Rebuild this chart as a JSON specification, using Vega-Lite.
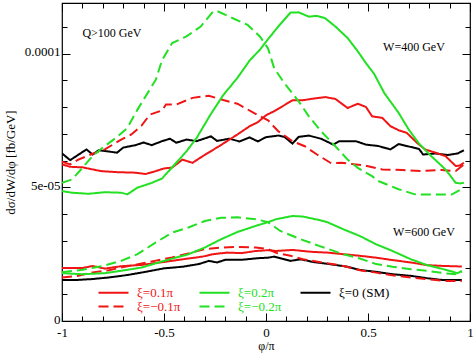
{
"$schema":"https://vega.github.io/schema/vega-lite/v6.json",
"width":408,"height":318,
"autosize":{"type":"none"},
"padding":{"left":62,"top":3,"right":4,"bottom":33},
"config":{"view":{"stroke":"black","strokeWidth":1.2},"font":"Liberation Serif",
 "axis":{"labelFont":"Liberation Serif","titleFont":"Liberation Serif","labelFontSize":13,"titleFontSize":13,"titleFontWeight":"normal","domain":false,"grid":false,"tickColor":"black","labelColor":"black","titleColor":"black","tickWidth":1}},
"datasets":{"curves":[
{"s":"ξ=0 (SM)","W":400,"x":-1.0,"y":6.27e-5},{"s":"ξ=0 (SM)","W":400,"x":-0.96,"y":6.02e-5},{"s":"ξ=0 (SM)","W":400,"x":-0.88,"y":6.42e-5},{"s":"ξ=0 (SM)","W":400,"x":-0.85,"y":6.23e-5},{"s":"ξ=0 (SM)","W":400,"x":-0.82,"y":6.39e-5},{"s":"ξ=0 (SM)","W":400,"x":-0.73,"y":6.30e-5},{"s":"ξ=0 (SM)","W":400,"x":-0.70,"y":6.49e-5},{"s":"ξ=0 (SM)","W":400,"x":-0.64,"y":6.58e-5},{"s":"ξ=0 (SM)","W":400,"x":-0.60,"y":6.68e-5},{"s":"ξ=0 (SM)","W":400,"x":-0.56,"y":6.58e-5},{"s":"ξ=0 (SM)","W":400,"x":-0.51,"y":6.73e-5},{"s":"ξ=0 (SM)","W":400,"x":-0.47,"y":6.82e-5},{"s":"ξ=0 (SM)","W":400,"x":-0.44,"y":6.67e-5},{"s":"ξ=0 (SM)","W":400,"x":-0.39,"y":6.79e-5},{"s":"ξ=0 (SM)","W":400,"x":-0.34,"y":6.73e-5},{"s":"ξ=0 (SM)","W":400,"x":-0.27,"y":6.91e-5},{"s":"ξ=0 (SM)","W":400,"x":-0.24,"y":6.74e-5},{"s":"ξ=0 (SM)","W":400,"x":-0.18,"y":6.82e-5},{"s":"ξ=0 (SM)","W":400,"x":-0.13,"y":6.72e-5},{"s":"ξ=0 (SM)","W":400,"x":-0.08,"y":6.87e-5},{"s":"ξ=0 (SM)","W":400,"x":-0.04,"y":6.72e-5},{"s":"ξ=0 (SM)","W":400,"x":0.0,"y":6.88e-5},{"s":"ξ=0 (SM)","W":400,"x":0.06,"y":6.94e-5},{"s":"ξ=0 (SM)","W":400,"x":0.09,"y":6.89e-5},{"s":"ξ=0 (SM)","W":400,"x":0.13,"y":6.64e-5},{"s":"ξ=0 (SM)","W":400,"x":0.16,"y":6.89e-5},{"s":"ξ=0 (SM)","W":400,"x":0.21,"y":6.94e-5},{"s":"ξ=0 (SM)","W":400,"x":0.27,"y":6.82e-5},{"s":"ξ=0 (SM)","W":400,"x":0.33,"y":6.60e-5},{"s":"ξ=0 (SM)","W":400,"x":0.36,"y":6.73e-5},{"s":"ξ=0 (SM)","W":400,"x":0.44,"y":6.73e-5},{"s":"ξ=0 (SM)","W":400,"x":0.49,"y":6.60e-5},{"s":"ξ=0 (SM)","W":400,"x":0.55,"y":6.55e-5},{"s":"ξ=0 (SM)","W":400,"x":0.61,"y":6.42e-5},{"s":"ξ=0 (SM)","W":400,"x":0.65,"y":6.62e-5},{"s":"ξ=0 (SM)","W":400,"x":0.70,"y":6.53e-5},{"s":"ξ=0 (SM)","W":400,"x":0.75,"y":6.44e-5},{"s":"ξ=0 (SM)","W":400,"x":0.77,"y":6.23e-5},{"s":"ξ=0 (SM)","W":400,"x":0.83,"y":6.27e-5},{"s":"ξ=0 (SM)","W":400,"x":0.89,"y":6.21e-5},{"s":"ξ=0 (SM)","W":400,"x":0.94,"y":6.27e-5},{"s":"ξ=0 (SM)","W":400,"x":0.97,"y":6.39e-5},
{"s":"ξ=0.1π","W":400,"x":-1.0,"y":5.86e-5},{"s":"ξ=0.1π","W":400,"x":-0.96,"y":5.77e-5},{"s":"ξ=0.1π","W":400,"x":-0.90,"y":5.75e-5},{"s":"ξ=0.1π","W":400,"x":-0.81,"y":5.61e-5},{"s":"ξ=0.1π","W":400,"x":-0.73,"y":5.57e-5},{"s":"ξ=0.1π","W":400,"x":-0.64,"y":5.55e-5},{"s":"ξ=0.1π","W":400,"x":-0.59,"y":5.50e-5},{"s":"ξ=0.1π","W":400,"x":-0.54,"y":5.61e-5},{"s":"ξ=0.1π","W":400,"x":-0.50,"y":5.71e-5},{"s":"ξ=0.1π","W":400,"x":-0.46,"y":5.74e-5},{"s":"ξ=0.1π","W":400,"x":-0.41,"y":6.04e-5},{"s":"ξ=0.1π","W":400,"x":-0.36,"y":5.92e-5},{"s":"ξ=0.1π","W":400,"x":-0.31,"y":6.17e-5},{"s":"ξ=0.1π","W":400,"x":-0.23,"y":6.54e-5},{"s":"ξ=0.1π","W":400,"x":-0.14,"y":6.98e-5},{"s":"ξ=0.1π","W":400,"x":-0.08,"y":7.29e-5},{"s":"ξ=0.1π","W":400,"x":-0.04,"y":7.44e-5},{"s":"ξ=0.1π","W":400,"x":0.0,"y":7.70e-5},{"s":"ξ=0.1π","W":400,"x":0.04,"y":7.85e-5},{"s":"ξ=0.1π","W":400,"x":0.13,"y":8.26e-5},{"s":"ξ=0.1π","W":400,"x":0.18,"y":8.26e-5},{"s":"ξ=0.1π","W":400,"x":0.23,"y":8.32e-5},{"s":"ξ=0.1π","W":400,"x":0.29,"y":8.38e-5},{"s":"ξ=0.1π","W":400,"x":0.34,"y":8.31e-5},{"s":"ξ=0.1π","W":400,"x":0.40,"y":7.97e-5},{"s":"ξ=0.1π","W":400,"x":0.45,"y":8.13e-5},{"s":"ξ=0.1π","W":400,"x":0.49,"y":8.01e-5},{"s":"ξ=0.1π","W":400,"x":0.52,"y":7.66e-5},{"s":"ξ=0.1π","W":400,"x":0.57,"y":7.60e-5},{"s":"ξ=0.1π","W":400,"x":0.61,"y":7.29e-5},{"s":"ξ=0.1π","W":400,"x":0.65,"y":7.14e-5},{"s":"ξ=0.1π","W":400,"x":0.69,"y":7.04e-5},{"s":"ξ=0.1π","W":400,"x":0.74,"y":6.67e-5},{"s":"ξ=0.1π","W":400,"x":0.78,"y":6.42e-5},{"s":"ξ=0.1π","W":400,"x":0.83,"y":6.30e-5},{"s":"ξ=0.1π","W":400,"x":0.88,"y":6.17e-5},{"s":"ξ=0.1π","W":400,"x":0.93,"y":5.80e-5},{"s":"ξ=0.1π","W":400,"x":0.95,"y":5.82e-5},{"s":"ξ=0.1π","W":400,"x":0.97,"y":5.92e-5},
{"s":"ξ=−0.1π","W":400,"x":-1.0,"y":5.96e-5},{"s":"ξ=−0.1π","W":400,"x":-0.96,"y":5.86e-5},{"s":"ξ=−0.1π","W":400,"x":-0.92,"y":6.04e-5},{"s":"ξ=−0.1π","W":400,"x":-0.85,"y":6.26e-5},{"s":"ξ=−0.1π","W":400,"x":-0.79,"y":6.42e-5},{"s":"ξ=−0.1π","W":400,"x":-0.71,"y":6.79e-5},{"s":"ξ=−0.1π","W":400,"x":-0.66,"y":6.98e-5},{"s":"ξ=−0.1π","W":400,"x":-0.61,"y":7.31e-5},{"s":"ξ=−0.1π","W":400,"x":-0.57,"y":7.72e-5},{"s":"ξ=−0.1π","W":400,"x":-0.51,"y":7.88e-5},{"s":"ξ=−0.1π","W":400,"x":-0.49,"y":8.10e-5},{"s":"ξ=−0.1π","W":400,"x":-0.44,"y":8.10e-5},{"s":"ξ=−0.1π","W":400,"x":-0.36,"y":8.35e-5},{"s":"ξ=−0.1π","W":400,"x":-0.28,"y":8.43e-5},{"s":"ξ=−0.1π","W":400,"x":-0.21,"y":8.27e-5},{"s":"ξ=−0.1π","W":400,"x":-0.14,"y":8.13e-5},{"s":"ξ=−0.1π","W":400,"x":-0.06,"y":7.79e-5},{"s":"ξ=−0.1π","W":400,"x":-0.02,"y":7.63e-5},{"s":"ξ=−0.1π","W":400,"x":0.01,"y":7.51e-5},{"s":"ξ=−0.1π","W":400,"x":0.06,"y":7.10e-5},{"s":"ξ=−0.1π","W":400,"x":0.13,"y":6.73e-5},{"s":"ξ=−0.1π","W":400,"x":0.19,"y":6.54e-5},{"s":"ξ=−0.1π","W":400,"x":0.25,"y":6.23e-5},{"s":"ξ=−0.1π","W":400,"x":0.32,"y":5.90e-5},{"s":"ξ=−0.1π","W":400,"x":0.37,"y":5.92e-5},{"s":"ξ=−0.1π","W":400,"x":0.44,"y":5.86e-5},{"s":"ξ=−0.1π","W":400,"x":0.49,"y":5.81e-5},{"s":"ξ=−0.1π","W":400,"x":0.57,"y":5.67e-5},{"s":"ξ=−0.1π","W":400,"x":0.67,"y":5.65e-5},{"s":"ξ=−0.1π","W":400,"x":0.76,"y":5.61e-5},{"s":"ξ=−0.1π","W":400,"x":0.86,"y":5.65e-5},{"s":"ξ=−0.1π","W":400,"x":0.93,"y":5.61e-5},{"s":"ξ=−0.1π","W":400,"x":0.97,"y":5.86e-5},
{"s":"ξ=0.2π","W":400,"x":-1.0,"y":4.86e-5},{"s":"ξ=0.2π","W":400,"x":-0.95,"y":4.80e-5},{"s":"ξ=0.2π","W":400,"x":-0.87,"y":4.76e-5},{"s":"ξ=0.2π","W":400,"x":-0.79,"y":4.82e-5},{"s":"ξ=0.2π","W":400,"x":-0.71,"y":4.80e-5},{"s":"ξ=0.2π","W":400,"x":-0.68,"y":4.74e-5},{"s":"ξ=0.2π","W":400,"x":-0.63,"y":4.99e-5},{"s":"ξ=0.2π","W":400,"x":-0.56,"y":5.17e-5},{"s":"ξ=0.2π","W":400,"x":-0.51,"y":5.33e-5},{"s":"ξ=0.2π","W":400,"x":-0.46,"y":5.75e-5},{"s":"ξ=0.2π","W":400,"x":-0.39,"y":6.35e-5},{"s":"ξ=0.2π","W":400,"x":-0.34,"y":6.85e-5},{"s":"ξ=0.2π","W":400,"x":-0.27,"y":7.75e-5},{"s":"ξ=0.2π","W":400,"x":-0.21,"y":8.45e-5},{"s":"ξ=0.2π","W":400,"x":-0.14,"y":9.10e-5},{"s":"ξ=0.2π","W":400,"x":-0.08,"y":9.75e-5},{"s":"ξ=0.2π","W":400,"x":-0.03,"y":10.15e-5},{"s":"ξ=0.2π","W":400,"x":0.0,"y":10.45e-5},{"s":"ξ=0.2π","W":400,"x":0.06,"y":11.02e-5},{"s":"ξ=0.2π","W":400,"x":0.12,"y":11.54e-5},{"s":"ξ=0.2π","W":400,"x":0.16,"y":11.55e-5},{"s":"ξ=0.2π","W":400,"x":0.21,"y":11.39e-5},{"s":"ξ=0.2π","W":400,"x":0.25,"y":11.42e-5},{"s":"ξ=0.2π","W":400,"x":0.29,"y":11.33e-5},{"s":"ξ=0.2π","W":400,"x":0.34,"y":11.02e-5},{"s":"ξ=0.2π","W":400,"x":0.40,"y":10.59e-5},{"s":"ξ=0.2π","W":400,"x":0.45,"y":10.09e-5},{"s":"ξ=0.2π","W":400,"x":0.49,"y":9.65e-5},{"s":"ξ=0.2π","W":400,"x":0.53,"y":9.25e-5},{"s":"ξ=0.2π","W":400,"x":0.58,"y":8.53e-5},{"s":"ξ=0.2π","W":400,"x":0.65,"y":7.79e-5},{"s":"ξ=0.2π","W":400,"x":0.70,"y":7.16e-5},{"s":"ξ=0.2π","W":400,"x":0.75,"y":6.64e-5},{"s":"ξ=0.2π","W":400,"x":0.81,"y":6.17e-5},{"s":"ξ=0.2π","W":400,"x":0.88,"y":5.67e-5},{"s":"ξ=0.2π","W":400,"x":0.93,"y":5.17e-5},{"s":"ξ=0.2π","W":400,"x":0.95,"y":5.15e-5},{"s":"ξ=0.2π","W":400,"x":0.97,"y":5.17e-5},
{"s":"ξ=−0.2π","W":400,"x":-1.0,"y":5.17e-5},{"s":"ξ=−0.2π","W":400,"x":-0.95,"y":5.30e-5},{"s":"ξ=−0.2π","W":400,"x":-0.90,"y":5.73e-5},{"s":"ξ=−0.2π","W":400,"x":-0.85,"y":6.17e-5},{"s":"ξ=−0.2π","W":400,"x":-0.80,"y":6.49e-5},{"s":"ξ=−0.2π","W":400,"x":-0.74,"y":6.83e-5},{"s":"ξ=−0.2π","W":400,"x":-0.68,"y":7.22e-5},{"s":"ξ=−0.2π","W":400,"x":-0.63,"y":7.91e-5},{"s":"ξ=−0.2π","W":400,"x":-0.59,"y":8.41e-5},{"s":"ξ=−0.2π","W":400,"x":-0.54,"y":9.03e-5},{"s":"ξ=−0.2π","W":400,"x":-0.51,"y":9.75e-5},{"s":"ξ=−0.2π","W":400,"x":-0.46,"y":10.40e-5},{"s":"ξ=−0.2π","W":400,"x":-0.39,"y":10.65e-5},{"s":"ξ=−0.2π","W":400,"x":-0.32,"y":11.02e-5},{"s":"ξ=−0.2π","W":400,"x":-0.26,"y":11.58e-5},{"s":"ξ=−0.2π","W":400,"x":-0.24,"y":11.60e-5},{"s":"ξ=−0.2π","W":400,"x":-0.18,"y":11.39e-5},{"s":"ξ=−0.2π","W":400,"x":-0.09,"y":11.08e-5},{"s":"ξ=−0.2π","W":400,"x":-0.03,"y":10.65e-5},{"s":"ξ=−0.2π","W":400,"x":0.01,"y":10.20e-5},{"s":"ξ=−0.2π","W":400,"x":0.04,"y":9.46e-5},{"s":"ξ=−0.2π","W":400,"x":0.09,"y":8.90e-5},{"s":"ξ=−0.2π","W":400,"x":0.16,"y":8.22e-5},{"s":"ξ=−0.2π","W":400,"x":0.21,"y":7.66e-5},{"s":"ξ=−0.2π","W":400,"x":0.27,"y":7.10e-5},{"s":"ξ=−0.2π","W":400,"x":0.34,"y":6.54e-5},{"s":"ξ=−0.2π","W":400,"x":0.40,"y":6.04e-5},{"s":"ξ=−0.2π","W":400,"x":0.45,"y":5.73e-5},{"s":"ξ=−0.2π","W":400,"x":0.52,"y":5.42e-5},{"s":"ξ=−0.2π","W":400,"x":0.55,"y":5.24e-5},{"s":"ξ=−0.2π","W":400,"x":0.65,"y":4.93e-5},{"s":"ξ=−0.2π","W":400,"x":0.73,"y":4.74e-5},{"s":"ξ=−0.2π","W":400,"x":0.81,"y":4.73e-5},{"s":"ξ=−0.2π","W":400,"x":0.91,"y":4.73e-5},{"s":"ξ=−0.2π","W":400,"x":0.97,"y":4.99e-5},
{"s":"ξ=0 (SM)","W":600,"x":-1.0,"y":1.53e-5},{"s":"ξ=0 (SM)","W":600,"x":-0.94,"y":1.53e-5},{"s":"ξ=0 (SM)","W":600,"x":-0.85,"y":1.57e-5},{"s":"ξ=0 (SM)","W":600,"x":-0.77,"y":1.63e-5},{"s":"ξ=0 (SM)","W":600,"x":-0.68,"y":1.72e-5},{"s":"ξ=0 (SM)","W":600,"x":-0.59,"y":1.84e-5},{"s":"ξ=0 (SM)","W":600,"x":-0.50,"y":1.97e-5},{"s":"ξ=0 (SM)","W":600,"x":-0.41,"y":2.03e-5},{"s":"ξ=0 (SM)","W":600,"x":-0.33,"y":2.13e-5},{"s":"ξ=0 (SM)","W":600,"x":-0.28,"y":2.25e-5},{"s":"ξ=0 (SM)","W":600,"x":-0.24,"y":2.19e-5},{"s":"ξ=0 (SM)","W":600,"x":-0.20,"y":2.29e-5},{"s":"ξ=0 (SM)","W":600,"x":-0.12,"y":2.29e-5},{"s":"ξ=0 (SM)","W":600,"x":-0.04,"y":2.35e-5},{"s":"ξ=0 (SM)","W":600,"x":0.01,"y":2.37e-5},{"s":"ξ=0 (SM)","W":600,"x":0.04,"y":2.41e-5},{"s":"ξ=0 (SM)","W":600,"x":0.12,"y":2.25e-5},{"s":"ξ=0 (SM)","W":600,"x":0.17,"y":2.31e-5},{"s":"ξ=0 (SM)","W":600,"x":0.23,"y":2.21e-5},{"s":"ξ=0 (SM)","W":600,"x":0.31,"y":2.13e-5},{"s":"ξ=0 (SM)","W":600,"x":0.40,"y":2.03e-5},{"s":"ξ=0 (SM)","W":600,"x":0.46,"y":1.91e-5},{"s":"ξ=0 (SM)","W":600,"x":0.54,"y":1.84e-5},{"s":"ξ=0 (SM)","W":600,"x":0.62,"y":1.75e-5},{"s":"ξ=0 (SM)","W":600,"x":0.71,"y":1.69e-5},{"s":"ξ=0 (SM)","W":600,"x":0.79,"y":1.60e-5},{"s":"ξ=0 (SM)","W":600,"x":0.87,"y":1.53e-5},{"s":"ξ=0 (SM)","W":600,"x":0.96,"y":1.53e-5},
{"s":"ξ=0.1π","W":600,"x":-1.0,"y":1.98e-5},{"s":"ξ=0.1π","W":600,"x":-0.90,"y":1.98e-5},{"s":"ξ=0.1π","W":600,"x":-0.85,"y":2.06e-5},{"s":"ξ=0.1π","W":600,"x":-0.79,"y":1.96e-5},{"s":"ξ=0.1π","W":600,"x":-0.71,"y":2.05e-5},{"s":"ξ=0.1π","W":600,"x":-0.61,"y":2.10e-5},{"s":"ξ=0.1π","W":600,"x":-0.50,"y":2.21e-5},{"s":"ξ=0.1π","W":600,"x":-0.38,"y":2.34e-5},{"s":"ξ=0.1π","W":600,"x":-0.31,"y":2.41e-5},{"s":"ξ=0.1π","W":600,"x":-0.26,"y":2.50e-5},{"s":"ξ=0.1π","W":600,"x":-0.19,"y":2.56e-5},{"s":"ξ=0.1π","W":600,"x":-0.12,"y":2.54e-5},{"s":"ξ=0.1π","W":600,"x":-0.05,"y":2.62e-5},{"s":"ξ=0.1π","W":600,"x":0.01,"y":2.65e-5},{"s":"ξ=0.1π","W":600,"x":0.05,"y":2.62e-5},{"s":"ξ=0.1π","W":600,"x":0.13,"y":2.66e-5},{"s":"ξ=0.1π","W":600,"x":0.22,"y":2.59e-5},{"s":"ξ=0.1π","W":600,"x":0.30,"y":2.56e-5},{"s":"ξ=0.1π","W":600,"x":0.38,"y":2.50e-5},{"s":"ξ=0.1π","W":600,"x":0.46,"y":2.44e-5},{"s":"ξ=0.1π","W":600,"x":0.54,"y":2.37e-5},{"s":"ξ=0.1π","W":600,"x":0.62,"y":2.28e-5},{"s":"ξ=0.1π","W":600,"x":0.71,"y":2.19e-5},{"s":"ξ=0.1π","W":600,"x":0.79,"y":2.09e-5},{"s":"ξ=0.1π","W":600,"x":0.87,"y":2.06e-5},{"s":"ξ=0.1π","W":600,"x":0.96,"y":2.04e-5},
{"s":"ξ=−0.1π","W":600,"x":-1.0,"y":1.63e-5},{"s":"ξ=−0.1π","W":600,"x":-0.92,"y":1.69e-5},{"s":"ξ=−0.1π","W":600,"x":-0.85,"y":1.82e-5},{"s":"ξ=−0.1π","W":600,"x":-0.77,"y":1.90e-5},{"s":"ξ=−0.1π","W":600,"x":-0.71,"y":2.00e-5},{"s":"ξ=−0.1π","W":600,"x":-0.61,"y":2.15e-5},{"s":"ξ=−0.1π","W":600,"x":-0.54,"y":2.26e-5},{"s":"ξ=−0.1π","W":600,"x":-0.46,"y":2.38e-5},{"s":"ξ=−0.1π","W":600,"x":-0.38,"y":2.53e-5},{"s":"ξ=−0.1π","W":600,"x":-0.30,"y":2.69e-5},{"s":"ξ=−0.1π","W":600,"x":-0.22,"y":2.75e-5},{"s":"ξ=−0.1π","W":600,"x":-0.14,"y":2.77e-5},{"s":"ξ=−0.1π","W":600,"x":-0.05,"y":2.75e-5},{"s":"ξ=−0.1π","W":600,"x":0.01,"y":2.69e-5},{"s":"ξ=−0.1π","W":600,"x":0.05,"y":2.55e-5},{"s":"ξ=−0.1π","W":600,"x":0.12,"y":2.44e-5},{"s":"ξ=−0.1π","W":600,"x":0.18,"y":2.31e-5},{"s":"ξ=−0.1π","W":600,"x":0.26,"y":2.21e-5},{"s":"ξ=−0.1π","W":600,"x":0.38,"y":2.06e-5},{"s":"ξ=−0.1π","W":600,"x":0.46,"y":1.90e-5},{"s":"ξ=−0.1π","W":600,"x":0.54,"y":1.81e-5},{"s":"ξ=−0.1π","W":600,"x":0.62,"y":1.71e-5},{"s":"ξ=−0.1π","W":600,"x":0.71,"y":1.63e-5},{"s":"ξ=−0.1π","W":600,"x":0.79,"y":1.57e-5},{"s":"ξ=−0.1π","W":600,"x":0.87,"y":1.50e-5},{"s":"ξ=−0.1π","W":600,"x":0.96,"y":1.50e-5},
{"s":"ξ=0.2π","W":600,"x":-1.0,"y":1.79e-5},{"s":"ξ=0.2π","W":600,"x":-0.90,"y":1.75e-5},{"s":"ξ=0.2π","W":600,"x":-0.79,"y":1.79e-5},{"s":"ξ=0.2π","W":600,"x":-0.71,"y":1.88e-5},{"s":"ξ=0.2π","W":600,"x":-0.61,"y":2.00e-5},{"s":"ξ=0.2π","W":600,"x":-0.50,"y":2.25e-5},{"s":"ξ=0.2π","W":600,"x":-0.38,"y":2.50e-5},{"s":"ξ=0.2π","W":600,"x":-0.30,"y":2.75e-5},{"s":"ξ=0.2π","W":600,"x":-0.22,"y":3.06e-5},{"s":"ξ=0.2π","W":600,"x":-0.14,"y":3.33e-5},{"s":"ξ=0.2π","W":600,"x":-0.05,"y":3.56e-5},{"s":"ξ=0.2π","W":600,"x":0.01,"y":3.70e-5},{"s":"ξ=0.2π","W":600,"x":0.05,"y":3.81e-5},{"s":"ξ=0.2π","W":600,"x":0.13,"y":3.93e-5},{"s":"ξ=0.2π","W":600,"x":0.18,"y":3.91e-5},{"s":"ξ=0.2π","W":600,"x":0.26,"y":3.78e-5},{"s":"ξ=0.2π","W":600,"x":0.30,"y":3.70e-5},{"s":"ξ=0.2π","W":600,"x":0.38,"y":3.43e-5},{"s":"ξ=0.2π","W":600,"x":0.46,"y":3.18e-5},{"s":"ξ=0.2π","W":600,"x":0.54,"y":2.87e-5},{"s":"ξ=0.2π","W":600,"x":0.62,"y":2.62e-5},{"s":"ξ=0.2π","W":600,"x":0.71,"y":2.31e-5},{"s":"ξ=0.2π","W":600,"x":0.79,"y":2.09e-5},{"s":"ξ=0.2π","W":600,"x":0.87,"y":1.94e-5},{"s":"ξ=0.2π","W":600,"x":0.94,"y":1.79e-5},{"s":"ξ=0.2π","W":600,"x":0.96,"y":1.88e-5},
{"s":"ξ=−0.2π","W":600,"x":-1.0,"y":1.82e-5},{"s":"ξ=−0.2π","W":600,"x":-0.90,"y":1.92e-5},{"s":"ξ=−0.2π","W":600,"x":-0.80,"y":2.06e-5},{"s":"ξ=−0.2π","W":600,"x":-0.71,"y":2.25e-5},{"s":"ξ=−0.2π","W":600,"x":-0.63,"y":2.50e-5},{"s":"ξ=−0.2π","W":600,"x":-0.54,"y":2.94e-5},{"s":"ξ=−0.2π","W":600,"x":-0.46,"y":3.31e-5},{"s":"ξ=−0.2π","W":600,"x":-0.38,"y":3.50e-5},{"s":"ξ=−0.2π","W":600,"x":-0.30,"y":3.74e-5},{"s":"ξ=−0.2π","W":600,"x":-0.22,"y":3.86e-5},{"s":"ξ=−0.2π","W":600,"x":-0.14,"y":3.88e-5},{"s":"ξ=−0.2π","W":600,"x":-0.05,"y":3.81e-5},{"s":"ξ=−0.2π","W":600,"x":0.01,"y":3.70e-5},{"s":"ξ=−0.2π","W":600,"x":0.07,"y":3.37e-5},{"s":"ξ=−0.2π","W":600,"x":0.17,"y":3.06e-5},{"s":"ξ=−0.2π","W":600,"x":0.26,"y":2.81e-5},{"s":"ξ=−0.2π","W":600,"x":0.38,"y":2.50e-5},{"s":"ξ=−0.2π","W":600,"x":0.46,"y":2.34e-5},{"s":"ξ=−0.2π","W":600,"x":0.54,"y":2.13e-5},{"s":"ξ=−0.2π","W":600,"x":0.62,"y":2.03e-5},{"s":"ξ=−0.2π","W":600,"x":0.71,"y":1.94e-5},{"s":"ξ=−0.2π","W":600,"x":0.79,"y":1.88e-5},{"s":"ξ=−0.2π","W":600,"x":0.87,"y":1.79e-5},{"s":"ξ=−0.2π","W":600,"x":0.94,"y":1.75e-5},{"s":"ξ=−0.2π","W":600,"x":0.96,"y":1.85e-5}
]},
"layer":[
{"data":{"name":"curves"},
 "mark":{"type":"line","strokeWidth":2,"clip":true},
 "encoding":{
  "x":{"field":"x","type":"quantitative","scale":{"domain":[-1,1],"nice":false,"zero":false},
       "axis":{"orient":"bottom","values":[-1,-0.5,0,0.5,1],"labelExpr":"toString(datum.value)","tickSize":-8,"labelPadding":13,"title":"φ/π","titleFontSize":12,"titlePadding":1,"labelFlush":false}},
  "y":{"field":"y","type":"quantitative","scale":{"domain":[0,0.000119],"nice":false},
       "axis":{"orient":"left","values":[0,0.00005,0.0001],"labelExpr":"datum.value==0?'0':(datum.value<0.00007?'5e-05':'0.0001')","tickSize":-8,"labelPadding":10,"labelOffset":-2,"title":"dσ/dW/dφ [fb/GeV]","titlePadding":7,"labelFlush":false}},
  "stroke":{"field":"s","type":"nominal",
       "scale":{"domain":["ξ=0.1π","ξ=−0.1π","ξ=0.2π","ξ=−0.2π","ξ=0 (SM)"],"range":["#f01414","#f01414","#22e022","#22e022","#000000"]},
       "legend":{"orient":"none","legendX":36,"legendY":283,"columns":3,"title":null,"padding":0,"rowPadding":0,"columnPadding":14,"symbolType":"M-3,0H3","symbolSize":100,"symbolStrokeWidth":2,"symbolOffset":9,"labelOffset":17,"labelFontSize":13,"labelFont":"Liberation Serif","labelLimit":0,"encode":{"labels":{"update":{"fill":{"scale":"stroke","field":"value"}}}}}},
  "strokeDash":{"field":"s","type":"nominal",
       "scale":{"domain":["ξ=0.1π","ξ=−0.1π","ξ=0.2π","ξ=−0.2π","ξ=0 (SM)"],"range":[[1,0],[10,5],[1,0],[10,5],[1,0]]},
       "legend":{"orient":"none","legendX":36,"legendY":283,"columns":3,"title":null,"padding":0,"rowPadding":0,"columnPadding":14,"symbolType":"M-3,0H3","symbolSize":100,"symbolStrokeWidth":2,"symbolOffset":9,"labelOffset":17,"labelFontSize":13,"labelFont":"Liberation Serif","labelLimit":0,"encode":{"labels":{"update":{"fill":{"scale":"stroke","field":"value"}}}}}},
  "detail":{"field":"W","type":"nominal"}
 }},
{"data":{"values":[{}]},
 "mark":{"type":"text","font":"Liberation Serif","fontSize":12,"align":"left","baseline":"middle","color":"black"},
 "encoding":{
  "x":{"datum":-0.9,"type":"quantitative","axis":{"orient":"bottom","values":[-1,-0.9,-0.8,-0.7,-0.6,-0.5,-0.4,-0.3,-0.2,-0.1,0,0.1,0.2,0.3,0.4,0.5,0.6,0.7,0.8,0.9,1],"labels":false,"tickSize":-5,"title":null}},
  "y":{"datum":0.0001078,"type":"quantitative","axis":{"orient":"left","values":[0,0.00001,0.00002,0.00003,0.00004,0.00005,0.00006,0.00007,0.00008,0.00009,0.0001,0.00011],"labels":false,"tickSize":-5,"title":null}},
  "text":{"value":"Q>100 GeV"}}},
{"data":{"values":[{}]},
 "mark":{"type":"text","font":"Liberation Serif","fontSize":12,"align":"left","baseline":"middle","color":"black"},
 "encoding":{
  "x":{"datum":0.574,"type":"quantitative","axis":{"orient":"top","values":[-1,-0.5,0,0.5,1],"labels":false,"tickSize":-8,"title":null}},
  "y":{"datum":0.0001026,"type":"quantitative","axis":{"orient":"right","values":[0,0.00005,0.0001],"labels":false,"tickSize":-8,"title":null}},
  "text":{"value":"W=400 GeV"}}},
{"data":{"values":[{}]},
 "mark":{"type":"text","font":"Liberation Serif","fontSize":12,"align":"left","baseline":"middle","color":"black"},
 "encoding":{
  "x":{"datum":0.623,"type":"quantitative","axis":{"orient":"top","values":[-1,-0.9,-0.8,-0.7,-0.6,-0.5,-0.4,-0.3,-0.2,-0.1,0,0.1,0.2,0.3,0.4,0.5,0.6,0.7,0.8,0.9,1],"labels":false,"tickSize":-5,"title":null}},
  "y":{"datum":0.0000332,"type":"quantitative","axis":{"orient":"right","values":[0,0.00001,0.00002,0.00003,0.00004,0.00005,0.00006,0.00007,0.00008,0.00009,0.0001,0.00011],"labels":false,"tickSize":-5,"title":null}},
  "text":{"value":"W=600 GeV"}}}
],
"resolve":{"axis":{"x":"independent","y":"independent"}}
}
